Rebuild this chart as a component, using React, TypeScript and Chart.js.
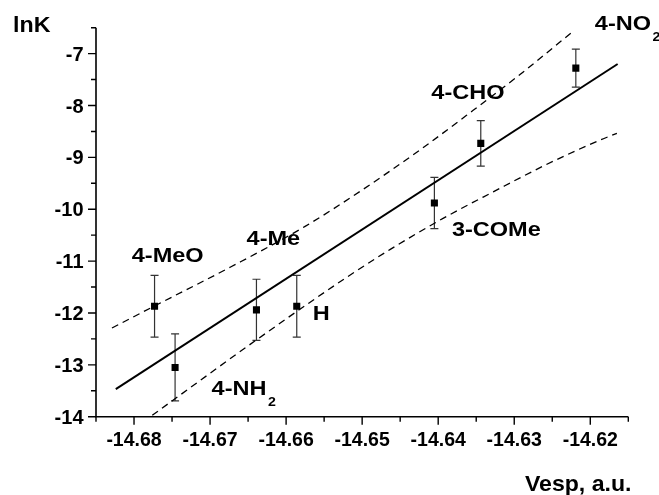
import React, { useEffect, useRef } from 'react';
import { Chart, registerables } from 'chart.js';

Chart.register(...registerables);

// ---- data ----
const SUBSTITUENTS = ['4-MeO', '4-NH2', '4-Me', 'H', '3-COMe', '4-CHO', '4-NO2'];
const VESP = [-14.6773, -14.6746, -14.6639, -14.6586, -14.6405, -14.6344, -14.6219];
const LNK = [-11.87, -13.05, -11.94, -11.87, -9.88, -8.73, -7.28];
const LNK_ERR = [0.595, 0.645, 0.59, 0.595, 0.495, 0.44, 0.365];

const FIT_X = [-14.6824, -14.6164];
const FIT_Y = [-13.47, -7.2];

const UPPER_X = [-14.6829, -14.6773, -14.6673, -14.6575, -14.6503, -14.6424, -14.6354, -14.6292, -14.6222];
const UPPER_Y = [-12.29, -11.865, -11.114, -10.33, -9.658, -8.857, -8.093, -7.398, -6.562];

const LOWER_X = [-14.6776, -14.6639, -14.6521, -14.6463, -14.6393, -14.6327, -14.6257, -14.6187, -14.6165];
const LOWER_Y = [-13.973, -12.519, -11.319, -10.774, -10.172, -9.66, -9.133, -8.666, -8.537];

const X_MIN = -14.685;
const X_MAX = -14.615;
const Y_MIN = -14;
const Y_MAX = -6.5;
const X_MAJOR_TICKS = [-14.68, -14.67, -14.66, -14.65, -14.64, -14.63, -14.62];
const X_MINOR_TICKS = [-14.685, -14.675, -14.665, -14.655, -14.645, -14.635, -14.625, -14.615];
const Y_MAJOR_TICKS = [-14, -13, -12, -11, -10, -9, -8, -7];
const Y_MINOR_TICKS = [-13.5, -12.5, -11.5, -10.5, -9.5, -8.5, -7.5, -6.5];

// label text: main part + subscript, anchored (left, baseline) in data units
const LABEL_MAIN = ['4-MeO', '4-NH', '4-Me', 'H', '3-COMe', '4-CHO', '4-NO'];
const LABEL_SUB = ['', '2', '', '', '', '', '2'];
const LABEL_X = [-14.6803, -14.6698, -14.6652, -14.6565, -14.6382, -14.6409, -14.6194];
const LABEL_Y = [-11.015, -13.589, -10.693, -12.127, -10.519, -7.88, -6.542];

const Y_TITLE = 'lnK';
const X_TITLE = 'Vesp, a.u.';

const FONT = '"Liberation Sans", Arial, sans-serif';

function drawText(
  ctx: CanvasRenderingContext2D,
  text: string,
  x: number,
  y: number,
  size: number,
  sx: number,
  align: CanvasTextAlign,
) {
  ctx.save();
  ctx.font = `bold ${size}px ${FONT}`;
  ctx.textAlign = align;
  ctx.textBaseline = 'alphabetic';
  ctx.fillStyle = '#000';
  ctx.translate(x, y);
  ctx.scale(sx, 1);
  ctx.fillText(text, 0, 0);
  const w = ctx.measureText(text).width * sx;
  ctx.restore();
  return w;
}

const decorPlugin = {
  id: 'decor',
  beforeDatasetsDraw(chart: any) {
    const ctx: CanvasRenderingContext2D = chart.ctx;
    const xs = chart.scales.x;
    const ys = chart.scales.y;
    ctx.save();
    ctx.strokeStyle = '#333';
    ctx.lineWidth = 1.2;
    for (let i = 0; i < VESP.length; i++) {
      const px = xs.getPixelForValue(VESP[i]);
      const top = ys.getPixelForValue(LNK[i] + LNK_ERR[i]);
      const bot = ys.getPixelForValue(LNK[i] - LNK_ERR[i]);
      ctx.beginPath();
      ctx.moveTo(px, top);
      ctx.lineTo(px, bot);
      ctx.moveTo(px - 4, top);
      ctx.lineTo(px + 4, top);
      ctx.moveTo(px - 4, bot);
      ctx.lineTo(px + 4, bot);
      ctx.stroke();
    }
    ctx.restore();
  },
  afterDraw(chart: any) {
    const ctx: CanvasRenderingContext2D = chart.ctx;
    const xs = chart.scales.x;
    const ys = chart.scales.y;
    const area = chart.chartArea;
    ctx.save();
    ctx.strokeStyle = '#000';
    ctx.lineWidth = 1.6;
    ctx.lineCap = 'butt';
    // axes
    ctx.beginPath();
    ctx.moveTo(area.left, area.top);
    ctx.lineTo(area.left, area.bottom);
    ctx.lineTo(area.right, area.bottom);
    ctx.stroke();
    // ticks
    ctx.lineWidth = 1.4;
    ctx.beginPath();
    X_MAJOR_TICKS.forEach((v) => {
      const p = xs.getPixelForValue(v);
      ctx.moveTo(p, area.bottom);
      ctx.lineTo(p, area.bottom + 8);
    });
    X_MINOR_TICKS.forEach((v) => {
      const p = xs.getPixelForValue(v);
      ctx.moveTo(p, area.bottom);
      ctx.lineTo(p, area.bottom + 5);
    });
    Y_MAJOR_TICKS.forEach((v) => {
      const p = ys.getPixelForValue(v);
      ctx.moveTo(area.left, p);
      ctx.lineTo(area.left - 8, p);
    });
    Y_MINOR_TICKS.forEach((v) => {
      const p = ys.getPixelForValue(v);
      ctx.moveTo(area.left, p);
      ctx.lineTo(area.left - 5, p);
    });
    ctx.stroke();
    ctx.restore();

    // tick labels
    X_MAJOR_TICKS.forEach((v) => {
      drawText(ctx, v.toFixed(2), xs.getPixelForValue(v), area.bottom + 29.5, 19.5, 1, 'center');
    });
    Y_MAJOR_TICKS.forEach((v) => {
      drawText(ctx, String(v), area.left - 12.5, ys.getPixelForValue(v) + 7, 20, 1, 'right');
    });

    // axis titles
    drawText(ctx, Y_TITLE, 13, 31.7, 21.5, 1.08, 'left');
    drawText(ctx, X_TITLE, 631.5, 490.7, 22, 1.05, 'right');

    // point annotations
    for (let i = 0; i < LABEL_MAIN.length; i++) {
      const px = xs.getPixelForValue(LABEL_X[i]);
      const py = ys.getPixelForValue(LABEL_Y[i]);
      const w = drawText(ctx, LABEL_MAIN[i], px, py, 21, 1.12, 'left');
      if (LABEL_SUB[i]) {
        drawText(ctx, LABEL_SUB[i], px + w + 1.5, py + 11, 13.5, 1.05, 'left');
      }
    }
  },
};

function pairs(xs: number[], ys: number[]) {
  return xs.map((x, i) => ({ x, y: ys[i] }));
}

export default function App() {
  const canvasRef = useRef<HTMLCanvasElement | null>(null);

  useEffect(() => {
    document.body.style.margin = '0';
    const canvas = canvasRef.current;
    if (!canvas) return;
    const chart = new Chart(canvas, {
      type: 'scatter',
      data: {
        datasets: [
          {
            label: 'fit',
            data: pairs(FIT_X, FIT_Y),
            showLine: true,
            borderColor: '#000',
            borderWidth: 2,
            pointRadius: 0,
            fill: false,
          },
          {
            label: 'upper',
            data: pairs(UPPER_X, UPPER_Y),
            showLine: true,
            borderColor: '#000',
            borderWidth: 1.3,
            borderDash: [7, 5],
            pointRadius: 0,
            cubicInterpolationMode: 'monotone',
            fill: false,
          },
          {
            label: 'lower',
            data: pairs(LOWER_X, LOWER_Y),
            showLine: true,
            borderColor: '#000',
            borderWidth: 1.3,
            borderDash: [7, 5],
            pointRadius: 0,
            cubicInterpolationMode: 'monotone',
            fill: false,
          },
          {
            label: 'lnK',
            data: VESP.map((x, i) => ({ x, y: LNK[i], name: SUBSTITUENTS[i] })),
            showLine: false,
            pointStyle: 'rect',
            pointRadius: 5,
            backgroundColor: '#000',
            borderColor: '#000',
            borderWidth: 0,
          },
        ],
      },
      options: {
        animation: false,
        responsive: true,
        maintainAspectRatio: false,
        devicePixelRatio: 1,
        layout: { padding: { top: 27.7, right: 30.7, bottom: 0, left: 0 } },
        plugins: { legend: { display: false }, tooltip: { enabled: false } },
        scales: {
          x: {
            type: 'linear',
            min: X_MIN,
            max: X_MAX,
            grid: { display: false },
            border: { display: false },
            ticks: { display: false },
            afterFit: (scale: any) => {
              scale.height = 78.3;
            },
          },
          y: {
            type: 'linear',
            min: Y_MIN,
            max: Y_MAX,
            grid: { display: false },
            border: { display: false },
            ticks: { display: false },
            afterFit: (scale: any) => {
              scale.width = 96;
            },
          },
        },
      },
      plugins: [decorPlugin],
    } as any);
    return () => chart.destroy();
  }, []);

  return (
    <div style={{ position: 'absolute', left: 0, top: 0, width: 659, height: 495, background: '#fff' }}>
      <canvas ref={canvasRef} />
    </div>
  );
}
